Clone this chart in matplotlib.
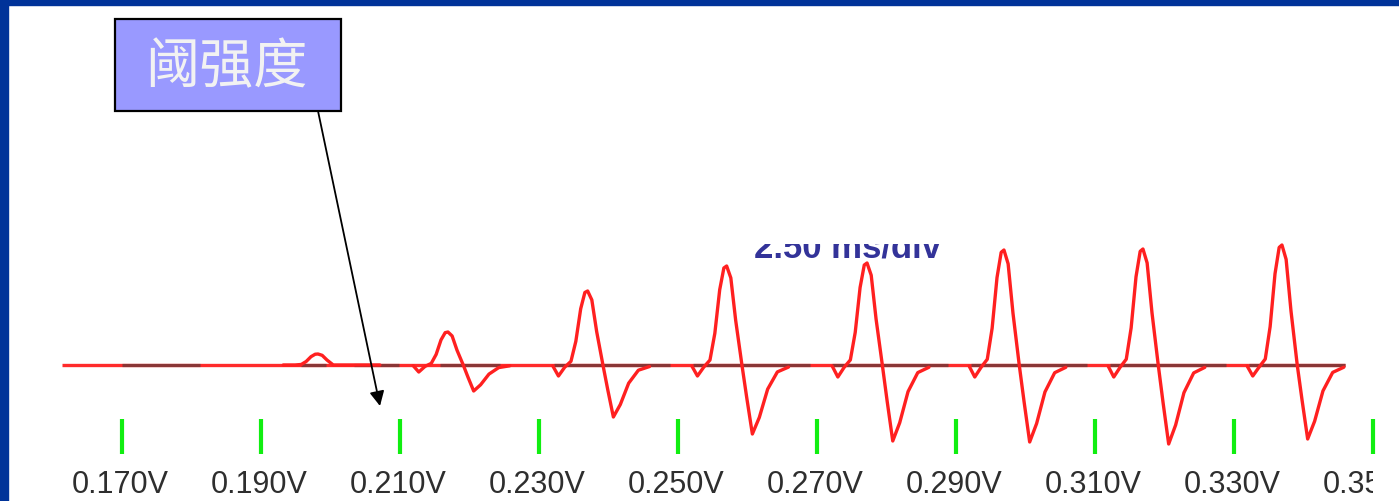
import matplotlib
matplotlib.use("Agg")
import matplotlib.pyplot as plt
import numpy as np
from matplotlib.patches import Rectangle
from matplotlib.transforms import Bbox

# stimulus voltage of each sweep (one sweep = 10 ms on screen)
volts = ["0.170V", "0.190V", "0.210V", "0.230V", "0.250V",
         "0.270V", "0.290V", "0.310V", "0.330V", "0.350V"]
sweep_ms = 10.0

# spike: time of peak in sweep (ms), peak, trough, stimulus dip
peak_t = [0.0, 4.1, 3.45, 3.5, 3.5, 3.6, 3.45, 3.45, 3.45]
peak_amp = [0, 11, 33, 74, 99, 102, 115, 116, 120]
trough_amp = [0, 0, 26, 52, 69, 76, 77, 79, 74]
dip_amp = [0, 0, 7, 11, 11, 12, 12, 12, 11]

# shape of one response around its peak (ms), weights for dip / peak / trough
shape_t = [-2.5, -2.1, -1.65, -1.2, -0.85, -0.5, -0.2, 0.0, 0.3, 0.65,
           1.1, 1.45, 1.85, 2.35, 2.95, 3.65, 4.45]
w_dip = [0.1, 1.0, 0.2, 0, 0, 0, 0, 0, 0, 0, 0, 0, 0, 0, 0, 0, 0]
w_peak = [0, 0, 0, 0.05, 0.32, 0.76, 0.98, 1.0, 0.88, 0.45, 0, 0, 0, 0, 0, 0, 0]
w_trough = [0, 0, 0, 0, 0, 0, 0, 0, 0, 0, 0, 0.48, 1.0, 0.76, 0.35, 0.1, 0.03]

# dark zero line pieces (ms)
zero_pieces = [(0, 5.6), (12.9, 14.7), (16.7, 19.9), (22.9, 27.2), (31.1, 39.4),
               (41.1, 49.5), (51.1, 59.4), (61.1, 69.4), (71.1, 79.4), (81.1, 88.0)]
zero_start, zero_end = -4.3, 88.0

W, H = 1399, 502
fig = plt.figure(figsize=(W / 100, H / 100), dpi=100)
fig.patch.set_facecolor("white")
ax = fig.add_axes([0, 0, 1, 1])
ax.set_xlim(-122 / 13.9, (W - 122) / 13.9)
ax.set_ylim(-136, 366)
ax.axis("off")

# frame
fig.add_artist(Rectangle((0, 0), 8 / W, 1, transform=fig.transFigure,
                         color="#003399", zorder=10))
fig.add_artist(Rectangle((0, 1 - 6 / H), 1, 6 / H, transform=fig.transFigure,
                         color="#003399", zorder=10))

# baseline
ax.plot([zero_start, zero_end], [0, 0], color="#ff2b2b", lw=2.4,
        solid_capstyle="butt", zorder=2)
for a, b in zero_pieces:
    ax.plot([a, b], [0, 0], color="#8a3636", lw=2.3, solid_capstyle="butt", zorder=3)

# responses
st = np.array(shape_t)
for k in range(1, len(peak_t)):
    t0 = k * sweep_ms + peak_t[k]
    y = (np.array(w_peak) * peak_amp[k] - np.array(w_trough) * trough_amp[k]
         - np.array(w_dip) * dip_amp[k])
    ax.plot(t0 + st, y, color="#ff2020", lw=2.4, solid_joinstyle="round",
            solid_capstyle="round", zorder=4)

# green ticks + voltage labels
clip = Bbox.from_extents(0, 0, 1373, H)
for i, v in enumerate(volts):
    x = i * sweep_ms
    ax.plot([x, x], [-54, -89], color="#11ee11", lw=3.0, solid_capstyle="butt", zorder=3)
    t = ax.text(x - 0.15, -127, v, ha="center", va="baseline", fontsize=22,
                color="#2e2e2e", family="Liberation Sans")
    t.set_clip_box(clip)
    t.set_clip_on(True)

# scale text, top half hidden behind the white screen edge
fig.text(848 / W, (H - 258) / H, "2.50 ms/div", ha="center", va="baseline",
         fontsize=25, color="#333399", family="Liberation Sans", weight="bold",
         zorder=5)
fig.add_artist(Rectangle((740 / W, 1 - 245 / H), 210 / W, 45 / H,
                         transform=fig.transFigure, facecolor="white",
                         edgecolor="none", zorder=6))

# label box with arrow
fig.add_artist(Rectangle((115 / W, 1 - 112 / H), 226 / W, 92 / H,
                         transform=fig.transFigure, facecolor="#9999ff",
                         edgecolor="black", lw=1.6, zorder=11))
fig.text(226 / W, 1 - 68 / H, "阈强度", ha="center", va="center", fontsize=39,
         color="#f2f2f2", family=["Noto Sans CJK SC", "DejaVu Sans"], zorder=12)
ax.annotate("", xy=(380, H - 407), xytext=(318, H - 112),
            xycoords="figure pixels", textcoords="figure pixels",
            arrowprops=dict(arrowstyle="-|>", color="black", lw=1.3,
                            mutation_scale=22, shrinkA=0, shrinkB=0), zorder=9)

fig.savefig("out.png", dpi=100)
